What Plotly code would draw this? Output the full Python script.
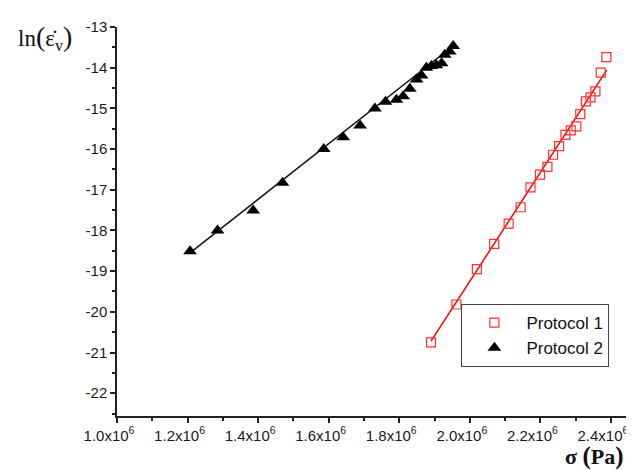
import plotly.graph_objects as go

# Protocol 1 (red open squares)
p1_sigma = [1.890e6, 1.962e6, 2.020e6, 2.069e6, 2.110e6, 2.144e6, 2.172e6, 2.199e6,
            2.220e6, 2.236e6, 2.253e6, 2.271e6, 2.286e6, 2.302e6, 2.313e6, 2.329e6,
            2.342e6, 2.356e6, 2.371e6, 2.387e6]
p1_lnrate = [-20.75, -19.82, -18.95, -18.33, -17.83, -17.43, -16.94, -16.63,
             -16.44, -16.14, -15.93, -15.65, -15.54, -15.44, -15.14, -14.83,
             -14.73, -14.58, -14.12, -13.74]
p1_fit_sigma = [1.890e6, 2.388e6]
p1_fit_lnrate = [-20.72, -14.06]

# Protocol 2 (black filled triangles)
p2_sigma = [1.207e6, 1.285e6, 1.386e6, 1.469e6, 1.586e6, 1.641e6, 1.689e6, 1.731e6,
            1.761e6, 1.792e6, 1.811e6, 1.830e6, 1.849e6, 1.863e6, 1.877e6, 1.891e6,
            1.905e6, 1.920e6, 1.929e6, 1.943e6, 1.953e6]
p2_lnrate = [-18.51, -18.00, -17.51, -16.83, -16.00, -15.71, -15.42, -15.00,
             -14.84, -14.79, -14.70, -14.52, -14.29, -14.19, -14.00, -13.96,
             -13.94, -13.89, -13.68, -13.60, -13.47]
p2_fit_sigma = [1.207e6, 1.9575e6]
p2_fit_lnrate = [-18.55, -13.43]

x_tickvals = [1.0e6, 1.2e6, 1.4e6, 1.6e6, 1.8e6, 2.0e6, 2.2e6, 2.4e6]
x_ticktext = ["1.0x10<sup>6</sup>", "1.2x10<sup>6</sup>", "1.4x10<sup>6</sup>",
              "1.6x10<sup>6</sup>", "1.8x10<sup>6</sup>", "2.0x10<sup>6</sup>",
              "2.2x10<sup>6</sup>", "2.4x10<sup>6</sup>"]
y_tickvals = [-22, -21, -20, -19, -18, -17, -16, -15, -14, -13]
y_ticktext = ["-22", "-21", "-20", "-19", "-18", "-17", "-16", "-15", "-14", "-13"]

fig = go.Figure()
fig.add_trace(go.Scatter(x=p1_fit_sigma, y=p1_fit_lnrate, mode="lines",
                         line=dict(color="#ff0000", width=1.5), showlegend=False,
                         hoverinfo="skip"))
fig.add_trace(go.Scatter(x=p2_fit_sigma, y=p2_fit_lnrate, mode="lines",
                         line=dict(color="#111111", width=1.5), showlegend=False,
                         hoverinfo="skip"))
fig.add_trace(go.Scatter(x=p1_sigma, y=p1_lnrate, mode="markers", name="Protocol 1",
                         marker=dict(symbol="square-open", size=9, color="#ff3030",
                                     line=dict(width=1.2, color="#ff3030"))))
fig.add_trace(go.Scatter(x=p2_sigma, y=p2_lnrate, mode="markers", name="Protocol 2",
                         marker=dict(symbol="triangle-up", size=12, color="#000000")))

axis_common = dict(showgrid=False, zeroline=False, showline=True, linecolor="#222222",
                   linewidth=1.5, ticks="outside", ticklen=5, tickwidth=1.5,
                   tickcolor="#222222", mirror=False,
                   tickfont=dict(family="Arial", size=15, color="#1a1a1a"))

fig.update_xaxes(range=[1.0e6, 2.488e6], tickmode="array", tickvals=x_tickvals,
                 ticktext=x_ticktext, ticklabelshift=-8,
                 minor=dict(tickmode="linear", tick0=1.0e6, dtick=1.0e5, ticks="outside",
                            ticklen=3, tickwidth=1.5, tickcolor="#222222"),
                 **axis_common)
fig.update_yaxes(range=[-22.56, -13], tickmode="array", tickvals=y_tickvals,
                 ticktext=y_ticktext,
                 minor=dict(tickmode="linear", tick0=-13, dtick=0.5, ticks="outside",
                            ticklen=3, tickwidth=1.5, tickcolor="#222222"),
                 **axis_common)

serif = "Liberation Serif"
# y-axis title: ln(ε̇_v)
fig.add_annotation(xref="paper", yref="paper", x=-0.138, y=0.972,
                   xanchor="center", yanchor="middle", showarrow=False,
                   text="ln<span style='font-size:28px'>(</span>\u03b5\u0307<sub>v</sub><span style='font-size:28px'>)</span>",
                   font=dict(family=serif, size=23, color="#111111"))
# x-axis title
fig.add_annotation(xref="paper", yref="paper", x=0.91, y=-0.102,
                   xanchor="center", yanchor="middle", showarrow=False,
                   text="<b>\u03c3 <span style='font-size:25px'>(</span>Pa<span style='font-size:25px'>)</span></b>",
                   font=dict(family=serif, size=22, color="#111111"))

fig.update_layout(
    width=634, height=470,
    margin=dict(l=109, r=0, t=19, b=62),
    plot_bgcolor="white", paper_bgcolor="white",
    showlegend=True,
    legend=dict(x=0.656, y=0.2875, xanchor="left", yanchor="top",
                bordercolor="#444444", borderwidth=1, bgcolor="white",
                font=dict(family="Arial", size=17, color="#111111"),
                itemwidth=54, tracegroupgap=0),
)

fig.write_html("out.html")
